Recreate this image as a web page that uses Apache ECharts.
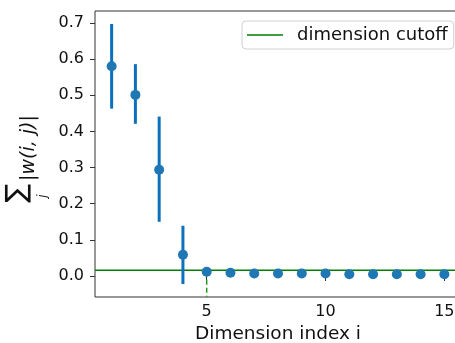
<!DOCTYPE html>
<html>
<head>
<meta charset="utf-8">
<script src="https://cdn.jsdelivr.net/npm/echarts@6/dist/echarts.min.js"></script>
<style>
  html, body { margin: 0; padding: 0; background: #fff; }
  #main { width: 455px; height: 343px; }
</style>
</head>
<body>
<div id="main"></div>
<script>
// values
var dims = [1, 2, 3, 4, 5, 6, 7, 8, 9, 10, 11, 12, 13, 14, 15];
var meanWeight = [0.580, 0.501, 0.294, 0.059, 0.012, 0.009, 0.007, 0.007, 0.007, 0.007, 0.005, 0.005, 0.005, 0.005, 0.005];
var errLow = [0.463, 0.421, 0.150, -0.022, 0.012, 0.009, 0.007, 0.007, 0.007, 0.007, 0.005, 0.005, 0.005, 0.005, 0.005];
var errHigh = [0.697, 0.586, 0.441, 0.139, 0.012, 0.009, 0.007, 0.007, 0.007, 0.007, 0.005, 0.005, 0.005, 0.005, 0.005];
var cutoffLevel = 0.0158;
var cutoffDim = 5;
var xRange = [0.3, 15.7];
var yRange = [-0.058, 0.733];
var xTicks = [5, 10, 15];
var yTicks = [0, 0.1, 0.2, 0.3, 0.4, 0.5, 0.6, 0.7];

var font = 'DejaVu Sans';
var chartDom = document.getElementById('main');
var myChart = echarts.init(chartDom, null, { renderer: 'canvas' });

var points = dims.map(function (d, i) { return [d, meanWeight[i]]; });
var bars = dims.map(function (d, i) { return [d, errLow[i], errHigh[i]]; });
var cutoffIdx = dims.indexOf(cutoffDim);

var option = {
    animation: false,
    backgroundColor: '#fff',
    grid: {
        left: 95, top: 11, width: 366, height: 286,
        outerBoundsMode: 'none',
        containLabel: false,
        show: true, borderColor: '#333', borderWidth: 1
    },
    legend: {
        data: [{ name: 'dimension cutoff', icon: 'rect' }],
        left: 242, top: 21,
        itemWidth: 36, itemHeight: 1.5,
        padding: [5, 6, 5, 5],
        borderColor: '#d0d0d0', borderWidth: 1, borderRadius: 4,
        textStyle: { fontFamily: font, fontSize: 18, color: '#111', padding: [0, 0, 0, 9] }
    },
    xAxis: {
        type: 'value',
        min: xRange[0], max: xRange[1],
        name: 'Dimension index i',
        nameLocation: 'middle', nameGap: 26,
        nameTextStyle: { fontFamily: font, fontSize: 18.5, color: '#111' },
        axisLine: { show: false },
        axisTick: { show: true, length: 5, customValues: xTicks, lineStyle: { color: '#333' } },
        axisLabel: {
            customValues: xTicks, margin: 7,
            fontFamily: font, fontSize: 16, color: '#111'
        },
        splitLine: { show: false }
    },
    yAxis: {
        type: 'value',
        min: yRange[0], max: yRange[1],
        axisLine: { show: false },
        axisTick: { show: true, length: 5, customValues: yTicks, lineStyle: { color: '#333' } },
        axisLabel: {
            customValues: yTicks, margin: 11,
            fontFamily: font, fontSize: 16, color: '#111',
            formatter: function (v) { return v.toFixed(1); }
        },
        splitLine: { show: false }
    },
    graphic: [
        { type: 'text', x: 18, y: 193, rotation: Math.PI / 2,
          style: { text: '\u2211', font: '28px "DejaVu Sans"', fill: '#111', align: 'center', verticalAlign: 'middle' } },
        { type: 'text', x: 29, y: 148, rotation: Math.PI / 2,
          style: { text: '|w(i, j)|', font: 'italic 19px "DejaVu Sans"', fill: '#111', align: 'center', verticalAlign: 'middle' } },
        { type: 'text', x: 43, y: 196, rotation: Math.PI / 2,
          style: { text: 'j', font: 'italic 12px "DejaVu Sans"', fill: '#111', align: 'center', verticalAlign: 'middle' } }
    ],
    series: [
        {
            name: 'dimension cutoff',
            type: 'line',
            data: [[xRange[0], cutoffLevel], [xRange[1], cutoffLevel]],
            symbol: 'none',
            lineStyle: { color: '#008000', width: 1.5 },
            itemStyle: { color: '#008000' },
            z: 1
        },
        {
            name: 'cutoff marker',
            type: 'line',
            data: [[cutoffDim, meanWeight[cutoffIdx]], [cutoffDim, yRange[0]]],
            symbol: 'none',
            lineStyle: { color: '#1f9a1f', width: 1.5, type: [5, 3] },
            z: 1
        },
        {
            name: 'spread',
            type: 'custom',
            data: bars,
            renderItem: function (params, api) {
                var top = api.coord([api.value(0), api.value(2)]);
                var bot = api.coord([api.value(0), api.value(1)]);
                return {
                    type: 'line',
                    shape: { x1: top[0], y1: top[1], x2: bot[0], y2: bot[1] },
                    style: { stroke: '#0d70bd', lineWidth: 3 }
                };
            },
            z: 2
        },
        {
            name: 'mean',
            type: 'scatter',
            data: points,
            symbolSize: 10,
            itemStyle: { color: '#1f77b4', opacity: 1 },
            z: 3
        }
    ]
};
myChart.setOption(option);
</script>
</body>
</html>
